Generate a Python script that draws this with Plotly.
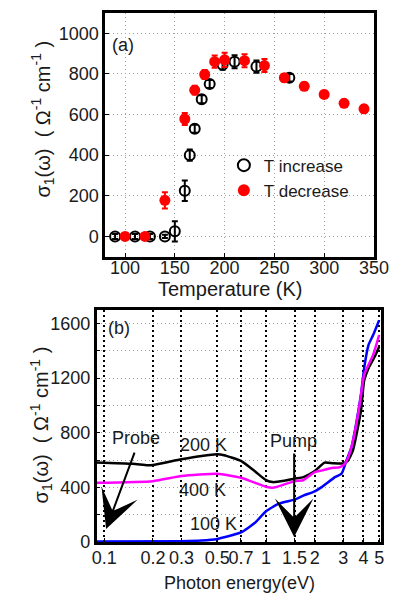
import plotly.graph_objects as go

# ---------------- Panel (a) data ----------------
temps_inc = [90, 110, 125, 140, 150, 160, 165, 170, 177, 185, 198, 210, 232, 265]
sigma_inc = [0, 0, 0, 0, 25, 225, 400, 530, 675, 750, 845, 860, 836, 781]
err_inc = [12, 12, 12, 8, 50, 50, 28, 20, 20, 20, 25, 32, 30, 18]

temps_dec = [100, 120, 140, 160, 170, 180, 190, 200, 220, 240, 260, 280, 300, 320, 340]
sigma_dec = [0, 0, 178, 578, 720, 797, 860, 869, 865, 841, 781, 739, 699, 655, 628]
err_dec = [8, 8, 40, 30, 22, 22, 30, 35, 32, 32, 18, 18, 18, 18, 18]

temp_ticks = [100, 150, 200, 250, 300, 350]
sigma_a_ticks = [0, 200, 400, 600, 800, 1000]

# ---------------- Panel (b) data ----------------
energy_200K = [0.088, 0.15, 0.185, 0.2, 0.3, 0.4, 0.5, 0.55, 0.7, 0.85, 1.0, 1.1, 1.3, 1.5, 1.7,
               1.85, 2.0, 2.3, 2.6, 3.0, 3.2, 3.44, 3.86, 4.04, 4.3, 4.7, 5.0]
sigma_200K = [582, 572, 561, 563, 605, 630, 642, 635, 593, 519, 452, 438, 448, 463, 475,
              495, 519, 581, 576, 575, 593, 669, 959, 1182, 1273, 1358, 1430]

energy_400K = [0.088, 0.2, 0.3, 0.5, 0.7, 1.0, 1.1, 1.5, 1.7, 2.0, 2.22, 2.5, 2.86, 3.07, 3.28,
               3.52, 3.79, 4.04, 4.3, 4.59, 5.0]
sigma_400K = [433, 445, 482, 500, 470, 404, 396, 445, 452, 511, 524, 540, 548, 573, 645,
              790, 1008, 1225, 1298, 1370, 1515]

energy_100K = [0.088, 0.3, 0.4, 0.5, 0.7, 0.85, 1.0, 1.2, 1.5, 1.7, 2.0, 2.22, 2.68, 2.93, 3.14,
               3.37, 3.6, 3.86, 4.04, 4.3, 4.59, 5.0]
sigma_100K = [2, 5, 10, 22, 69, 138, 224, 280, 310, 339, 371, 403, 476, 500, 597,
              693, 863, 1080, 1273, 1443, 1515, 1624]

energy_ticks = [0.1, 0.2, 0.3, 0.5, 0.7, 1, 1.5, 2, 3, 4, 5]
energy_tick_text = ["0.1", "0.2", "0.3", "0.5", "0.7", "1", "1.5", "2", "3", "4", "5"]
sigma_b_grid = [0, 200, 400, 600, 800, 1000, 1200, 1400, 1600]
sigma_b_text = ["0", "", "400", "", "800", "", "1200", "", "1600"]

W, H = 399, 597
FONT = "Liberation Sans, Arial, sans-serif"
TXT = "#1a1a1a"


def px(x):
    return x / W


def py(y):
    return 1 - y / H


fig = go.Figure()

fig.add_trace(go.Scatter(
    x=temps_inc, y=sigma_inc, mode="markers", name="T increase",
    marker=dict(symbol="circle-open", size=10, color="black", line=dict(width=2, color="black")),
    error_y=dict(type="data", array=err_inc, color="black", thickness=2, width=3),
    xaxis="x", yaxis="y"))
fig.add_trace(go.Scatter(
    x=temps_dec, y=sigma_dec, mode="markers", name="T decrease",
    marker=dict(symbol="circle", size=11, color="#ff0000"),
    error_y=dict(type="data", array=err_dec, color="#ff0000", thickness=2, width=3),
    xaxis="x", yaxis="y"))

line_style = dict(width=2.5, shape="spline", smoothing=0.5)
fig.add_trace(go.Scatter(x=energy_200K, y=sigma_200K, mode="lines", showlegend=False,
                         line=dict(color="black", **line_style), xaxis="x2", yaxis="y2"))
fig.add_trace(go.Scatter(x=energy_100K, y=sigma_100K, mode="lines", showlegend=False,
                         line=dict(color="#0000ff", **line_style), xaxis="x2", yaxis="y2"))
fig.add_trace(go.Scatter(x=energy_400K, y=sigma_400K, mode="lines", showlegend=False,
                         line=dict(color="#ff00ff", **line_style), xaxis="x2", yaxis="y2"))

axis_common = dict(showline=True, mirror=True, linecolor="black", linewidth=2.5,
                   ticks="inside", ticklen=4, tickcolor="black", zeroline=False,
                   tickfont=dict(family=FONT, size=18, color=TXT))

fig.update_layout(
    width=W, height=H,
    margin=dict(l=0, r=0, t=0, b=0),
    paper_bgcolor="white", plot_bgcolor="white",
    font=dict(family=FONT, color=TXT),
    xaxis=dict(domain=[px(97), px(380)], range=[80, 350], tickvals=temp_ticks,
               showgrid=True, gridcolor="#a0a0a0", griddash="1px,3px", gridwidth=1,
               anchor="y", tickangle=0, ticklabelstandoff=-7, **axis_common),
    yaxis=dict(domain=[py(253), py(5)], range=[-100, 1100], tickvals=sigma_a_ticks,
               showgrid=True, gridcolor="#a0a0a0", griddash="1px,3px", gridwidth=1,
               anchor="x", **axis_common),
    xaxis2=dict(domain=[px(88), px(387)], type="log", range=[-1.047, 0.708],
                tickvals=energy_ticks, ticktext=energy_tick_text, tickangle=0,
                ticklabelstandoff=-2,
                showgrid=True, gridcolor="black", griddash="2px,3px", gridwidth=1.5,
                anchor="y2", **axis_common),
    yaxis2=dict(domain=[py(543), py(307)], range=[0, 1700], tickvals=sigma_b_grid,
                ticktext=sigma_b_text,
                showgrid=True, gridcolor="#a0a0a0", griddash="1px,3px", gridwidth=1,
                anchor="x2", **axis_common),
    legend=dict(x=px(222), y=py(142), xanchor="left", yanchor="top",
                bgcolor="rgba(0,0,0,0)", font=dict(family=FONT, size=17, color=TXT),
                tracegroupgap=0, itemsizing="constant"),
)

ann = []


def label(text, x, y, size=18, angle=0):
    ann.append(dict(text=text, x=px(x), y=py(y), xref="paper", yref="paper",
                    showarrow=False, xanchor="center", yanchor="middle", textangle=angle,
                    font=dict(family=FONT, size=size, color=TXT)))


label("(a)", 116, 38)
label("(b)", 112, 325)
label("Temperature (K)", 229, 286, size=20)
label("Photon energy(eV)", 238, 585, size=18)
ytitle = "σ<sub>1</sub>(ω)  ( Ω<sup>-1</sup> cm<sup>-1</sup> )"
label(ytitle, 31, 113, size=20, angle=-90)
label(ytitle, 30, 424, size=20, angle=-90)
label("Probe", 130, 437)
label("200 K", 201, 444)
label("400 K", 199, 490)
label("100 K", 211, 525)
label("Pump", 295, 440)

# arrows
for tip, tail in [((98, 530), (127, 452)), ((296, 538), (296, 453))]:
    ann.append(dict(text="", x=px(tip[0]), y=py(tip[1]), xref="paper", yref="paper",
                    ax=tail[0] - tip[0], ay=tail[1] - tip[1], showarrow=True,
                    arrowhead=3, arrowsize=3.2, arrowwidth=2, arrowcolor="black",
                    standoff=0))

fig.update_layout(annotations=ann)

fig.write_html("out.html")
